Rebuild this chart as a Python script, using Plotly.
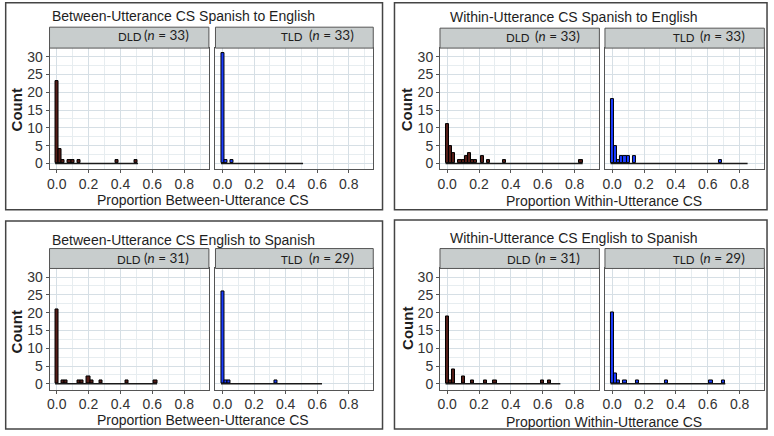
import plotly.graph_objects as go

W, H = 774, 436
BINWIDTH = 0.02

# ---------------- data ----------------
titles = ["Between-Utterance CS Spanish to English",
          "Within-Utterance CS Spanish to English",
          "Between-Utterance CS English to Spanish",
          "Within-Utterance CS English to Spanish"]
xtitles = ["Proportion Between-Utterance CS",
           "Proportion Within-Utterance CS",
           "Proportion Between-Utterance CS",
           "Proportion Within-Utterance CS"]
groups = ["DLD", "TLD"]
n_dld = [33, 33, 31, 31]
n_tld = [33, 33, 29, 29]

# histogram bin midpoints (binwidth 0.02) and counts
p1_dld_x = [0.00, 0.02, 0.04, 0.08, 0.10, 0.14, 0.38, 0.50]
p1_dld_y = [23, 4, 1, 1, 1, 1, 1, 1]
p1_tld_x = [0.00, 0.02, 0.06]
p1_tld_y = [31, 1, 1]

p2_dld_x = [0.00, 0.02, 0.04, 0.08, 0.10, 0.12, 0.14, 0.16, 0.18, 0.22, 0.26, 0.36, 0.84]
p2_dld_y = [11, 5, 3, 1, 1, 2, 3, 1, 1, 2, 1, 1, 1]
p2_tld_x = [0.00, 0.02, 0.04, 0.06, 0.08, 0.10, 0.14, 0.68]
p2_tld_y = [18, 5, 1, 2, 2, 2, 2, 1]

p3_dld_x = [0.00, 0.04, 0.06, 0.14, 0.16, 0.20, 0.22, 0.28, 0.44, 0.62]
p3_dld_y = [21, 1, 1, 1, 1, 2, 1, 1, 1, 1]
p3_tld_x = [0.00, 0.02, 0.04, 0.34]
p3_tld_y = [26, 1, 1, 1]

p4_dld_x = [0.00, 0.02, 0.04, 0.10, 0.16, 0.24, 0.30, 0.60, 0.64]
p4_dld_y = [19, 1, 4, 2, 1, 1, 1, 1, 1]
p4_tld_x = [0.00, 0.02, 0.04, 0.08, 0.16, 0.34, 0.62, 0.70]
p4_tld_y = [20, 3, 1, 1, 1, 1, 1, 1]

panels = [
    [(p1_dld_x, p1_dld_y), (p1_tld_x, p1_tld_y)],
    [(p2_dld_x, p2_dld_y), (p2_tld_x, p2_tld_y)],
    [(p3_dld_x, p3_dld_y), (p3_tld_x, p3_tld_y)],
    [(p4_dld_x, p4_dld_y), (p4_tld_x, p4_tld_y)],
]
x_ticks = [0.0, 0.2, 0.4, 0.6, 0.8]
y_ticks = [0, 5, 10, 15, 20, 25, 30]

# ---------------- styling / geometry (pixels) ----------------
colors = ["#541c17", "#1a3cff"]
GRID = "#d6dfe5"
GRID_MINOR = "#e7edf0"
EDGE = "#555555"
STRIP = "#c8cdcd"
TXT = "#1e1e1e"

geo = [
    dict(fx=[(46.7, 206.7), (213.3, 371.7)], y=(48.3, 170.0), sy=27.3,
         box=(2.7, 2.7, 381, 210.7), title=(181, 16), xt=(201, 200.5), cnt=(14, 110),
         st=[(127, 164), (290, 330)], sty=36),
    dict(fx=[(438.7, 598.7), (604.3, 764.3)], y=(48.3, 170.0), sy=28.3,
         box=(393, 2.7, 767, 210.7), title=(573, 16.7), xt=(603, 202), cnt=(405.3, 110),
         st=[(517, 557), (684, 722)], sty=37),
    dict(fx=[(46.7, 206.7), (213.3, 371.7)], y=(269.7, 391.3), sy=249.7,
         box=(2.7, 222, 381, 431), title=(181, 240.7), xt=(201, 421.5), cnt=(14, 333),
         st=[(126, 164), (290, 330)], sty=259.7),
    dict(fx=[(438.7, 598.7), (604.3, 764.3)], y=(269.7, 391.3), sy=249.7,
         box=(393, 221, 767, 431), title=(573, 238.7), xt=(603, 424), cnt=(405.3, 329.7),
         st=[(518, 557), (684, 722)], sty=259.7),
]

def px(x):
    return x / W

def py(y):
    return 1 - y / H

fig = go.Figure()
shapes = []
annotations = []
layout = {}

idx = 0
for p, (pan, g) in enumerate(zip(panels, geo)):
    all_x = pan[0][0] + pan[1][0]
    line_x0 = min(all_x) - BINWIDTH / 2
    line_x1 = max(all_x) + BINWIDTH / 2
    bx0, by0, bx1, by1 = g["box"]
    shapes.append(dict(type="rect", xref="paper", yref="paper",
                       x0=px(bx0), x1=px(bx1), y0=py(by1), y1=py(by0),
                       line=dict(color="#444444", width=1.5), fillcolor="rgba(0,0,0,0)",
                       layer="above"))
    for f in range(2):
        idx += 1
        xs, ys = pan[f]
        xa = "x" if idx == 1 else f"x{idx}"
        ya = "y" if idx == 1 else f"y{idx}"
        fig.add_trace(go.Scatter(x=[line_x0, line_x1], y=[0, 0], mode="lines",
                                 line=dict(color="#1a1a1a", width=1.5),
                                 xaxis=xa, yaxis=ya, showlegend=False, hoverinfo="skip"))
        fig.add_trace(go.Bar(x=xs, y=ys, width=[BINWIDTH] * len(xs),
                             marker=dict(color=colors[f], line=dict(color="black", width=1)),
                             xaxis=xa, yaxis=ya, showlegend=False))
        x0, x1 = g["fx"][f]
        yt, yb = g["y"]
        layout["xaxis" if idx == 1 else f"xaxis{idx}"] = dict(
            domain=[px(x0), px(x1)], anchor=ya, range=[-0.045, 0.955],
            tickvals=x_ticks, ticktext=[f"{v:.1f}" for v in x_ticks],
            showgrid=True, gridcolor=GRID, gridwidth=1,
            minor=dict(dtick=0.1, tick0=0, showgrid=True, gridcolor=GRID_MINOR, gridwidth=0.8),
            ticks="outside", ticklen=3, tickcolor=EDGE, ticklabelstandoff=-1,
            showline=True, mirror=True, linecolor=EDGE, linewidth=1,
            zeroline=False, tickfont=dict(family="Arial", size=14, color="#333333"),
            fixedrange=True)
        layout["yaxis" if idx == 1 else f"yaxis{idx}"] = dict(
            domain=[py(yb), py(yt)], anchor=xa, range=[-1.6, 32.4],
            tickvals=y_ticks, showticklabels=(f == 0),
            showgrid=True, gridcolor=GRID, gridwidth=1,
            minor=dict(dtick=2.5, tick0=0, showgrid=True, gridcolor=GRID_MINOR, gridwidth=0.8),
            ticks="outside" if f == 0 else "", ticklen=3, tickcolor=EDGE,
            showline=True, mirror=True, linecolor=EDGE, linewidth=1,
            zeroline=False, tickfont=dict(family="Arial", size=14, color="#333333"),
            fixedrange=True)
        shapes.append(dict(type="rect", xref="paper", yref="paper",
                           x0=px(x0), x1=px(x1), y0=py(yt), y1=py(g["sy"]),
                           line=dict(color=EDGE, width=1), fillcolor=STRIP, layer="above"))
        cx_lab, cx_n = g["st"][f]
        n_val = n_dld[p] if f == 0 else n_tld[p]
        annotations.append(dict(xref="paper", yref="paper", x=px(cx_lab), y=py(g["sty"] + 1),
                                text=groups[f], showarrow=False, xanchor="center", yanchor="middle",
                                font=dict(family="Lato", size=11.5, color=TXT)))
        annotations.append(dict(xref="paper", yref="paper", x=px(cx_n), y=py(g["sty"] - 1),
                                text=f"(<i>n</i> = {n_val})", showarrow=False,
                                xanchor="center", yanchor="middle",
                                font=dict(family="Lato", size=13.5, color=TXT)))
    annotations.append(dict(xref="paper", yref="paper", x=px(g["title"][0]), y=py(g["title"][1]),
                            text=titles[p], showarrow=False, xanchor="center", yanchor="middle",
                            font=dict(family="Arial", size=14, color=TXT)))
    annotations.append(dict(xref="paper", yref="paper", x=px(g["xt"][0]), y=py(g["xt"][1]),
                            text=xtitles[p], showarrow=False, xanchor="center", yanchor="middle",
                            font=dict(family="Arial", size=14, color=TXT)))
    annotations.append(dict(xref="paper", yref="paper", x=px(g["cnt"][0]), y=py(g["cnt"][1]),
                            text="<b>Count</b>", showarrow=False, textangle=-90,
                            xanchor="center", yanchor="middle",
                            font=dict(family="Arial", size=15, color=TXT)))

fig.update_layout(width=W, height=H, margin=dict(l=0, r=0, t=0, b=0),
                  paper_bgcolor="white", plot_bgcolor="white",
                  showlegend=False, bargap=0,
                  shapes=shapes, annotations=annotations, **layout)

fig.write_html("out.html", config={"displayModeBar": False},
               post_script="document.body.style.margin='0px';"
                           "document.body.style.overflow='hidden';")
